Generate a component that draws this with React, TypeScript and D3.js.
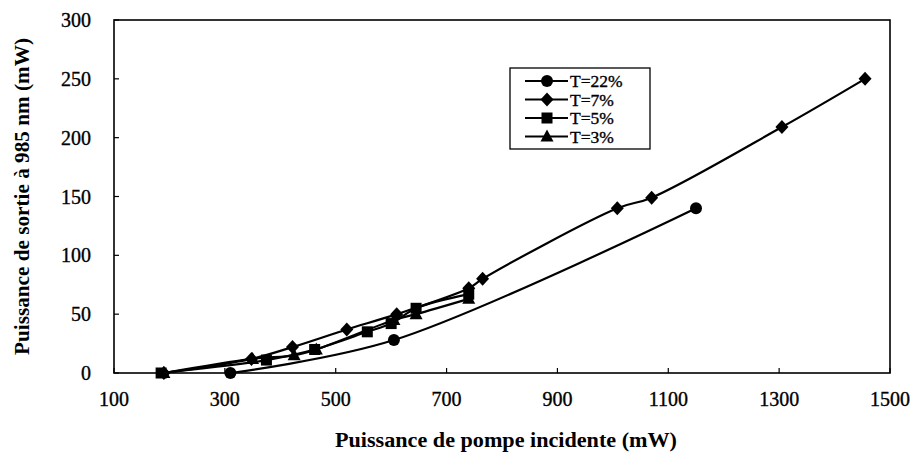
import React from "react";
import * as d3 from "d3";

const W = 913;
const H = 453;

const xTicks = [100, 300, 500, 700, 900, 1100, 1300, 1500];
const yTicks = [0, 50, 100, 150, 200, 250, 300];

const t22X = [310, 605, 1150];
const t22Y = [0, 28, 140];

const t7X = [190, 348, 422, 520, 610, 740, 765, 1008, 1070, 1305, 1455];
const t7Y = [0, 12, 22, 37, 50, 72, 80, 140, 149, 209, 250];

const t5X = [185, 375, 462, 557, 600, 645, 740];
const t5Y = [0, 11, 20, 35, 42, 55, 67];

const t3X = [190, 350, 425, 465, 605, 645, 740];
const t3Y = [0, 12, 15, 20, 45, 50, 63];

const seriesNames = ["T=22%", "T=7%", "T=5%", "T=3%"];
const seriesX = [t22X, t7X, t5X, t3X];
const seriesY = [t22Y, t7Y, t5Y, t3Y];
const seriesMarker = ["circle", "diamond", "square", "triangle"];

const xTitle = "Puissance de pompe incidente (mW)";
const yTitle = "Puissance de sortie à 985 nm (mW)";

const FONT = "'Liberation Serif', 'DejaVu Serif', serif";

function Marker({ type, x, y }: { type: string; x: number; y: number }) {
  if (type === "circle") return <circle cx={x} cy={y} r={6} fill="#000" />;
  if (type === "square") return <rect x={x - 5.5} y={y - 5.5} width={11} height={11} fill="#000" />;
  if (type === "diamond")
    return <path d={`M${x},${y - 7}L${x + 6.5},${y}L${x},${y + 7}L${x - 6.5},${y}Z`} fill="#000" />;
  return <path d={`M${x},${y - 7}L${x + 6.5},${y + 5}L${x - 6.5},${y + 5}Z`} fill="#000" />;
}

export default function App() {
  const x = d3.scaleLinear().domain([100, 1500]).range([114, 890]);
  const y = d3.scaleLinear().domain([0, 300]).range([373, 20]);
  const line = d3
    .line<[number, number]>()
    .x((d) => x(d[0]))
    .y((d) => y(d[1]))
    .curve(d3.curveCatmullRom.alpha(0.5));

  const legendX = 510;
  const legendRows = [81, 99.5, 118, 136.5];

  const textStroke = { stroke: "#000", strokeWidth: 0.35 };

  return (
    <svg
      width={W}
      height={H}
      style={{ position: "absolute", left: 0, top: 0, background: "#fff" }}
      fontFamily={FONT}
    >
      <rect x={0} y={0} width={W} height={H} fill="#fff" />
      {/* plot frame */}
      <rect x={x(100)} y={y(300)} width={x(1500) - x(100)} height={y(0) - y(300)} fill="none" stroke="#000" strokeWidth={1.6} />
      {/* ticks */}
      {xTicks.map((t) => (
        <line key={"xt" + t} x1={x(t)} x2={x(t)} y1={y(0)} y2={y(0) - 5} stroke="#000" strokeWidth={1.2} />
      ))}
      {yTicks.map((t) => (
        <line key={"yt" + t} x1={x(100)} x2={x(100) + 5} y1={y(t)} y2={y(t)} stroke="#000" strokeWidth={1.2} />
      ))}
      {/* tick labels */}
      {xTicks.map((t) => (
        <text key={"xl" + t} x={x(t)} y={406} textAnchor="middle" fontSize={20} {...textStroke}>
          {t}
        </text>
      ))}
      {yTicks.map((t) => (
        <text key={"yl" + t} x={91} y={y(t) + 7} textAnchor="end" fontSize={20} {...textStroke}>
          {t}
        </text>
      ))}
      {/* axis titles */}
      <text
        x={506}
        y={447}
        textAnchor="middle"
        fontSize={21}
        fontWeight="bold"
        textLength={342}
        lengthAdjust="spacingAndGlyphs"
      >
        {xTitle}
      </text>
      <text
        transform={`translate(29,${(38 + 355) / 2}) rotate(-90)`}
        textAnchor="middle"
        fontSize={20}
        fontWeight="bold"
        textLength={317}
        lengthAdjust="spacingAndGlyphs"
      >
        {yTitle}
      </text>
      {/* series */}
      {seriesX.map((xs, i) => {
        const pts = xs.map((v, j) => [v, seriesY[i][j]] as [number, number]);
        return (
          <g key={"s" + i}>
            <path d={line(pts) || ""} fill="none" stroke="#000" strokeWidth={2.2} />
            {pts.map((p, j) => (
              <Marker key={j} type={seriesMarker[i]} x={x(p[0])} y={y(p[1])} />
            ))}
          </g>
        );
      })}
      {/* legend */}
      <rect x={legendX} y={68} width={140} height={81} fill="#fff" stroke="#000" strokeWidth={1.3} />
      {seriesNames.map((n, i) => (
        <g key={"lg" + i}>
          <line x1={legendX + 15} x2={legendX + 58} y1={legendRows[i]} y2={legendRows[i]} stroke="#000" strokeWidth={2.2} />
          <Marker type={seriesMarker[i]} x={legendX + 37} y={legendRows[i]} />
          <text x={legendX + 60} y={legendRows[i] + 6} fontSize={17.5} {...textStroke}>
            {n}
          </text>
        </g>
      ))}
    </svg>
  );
}
